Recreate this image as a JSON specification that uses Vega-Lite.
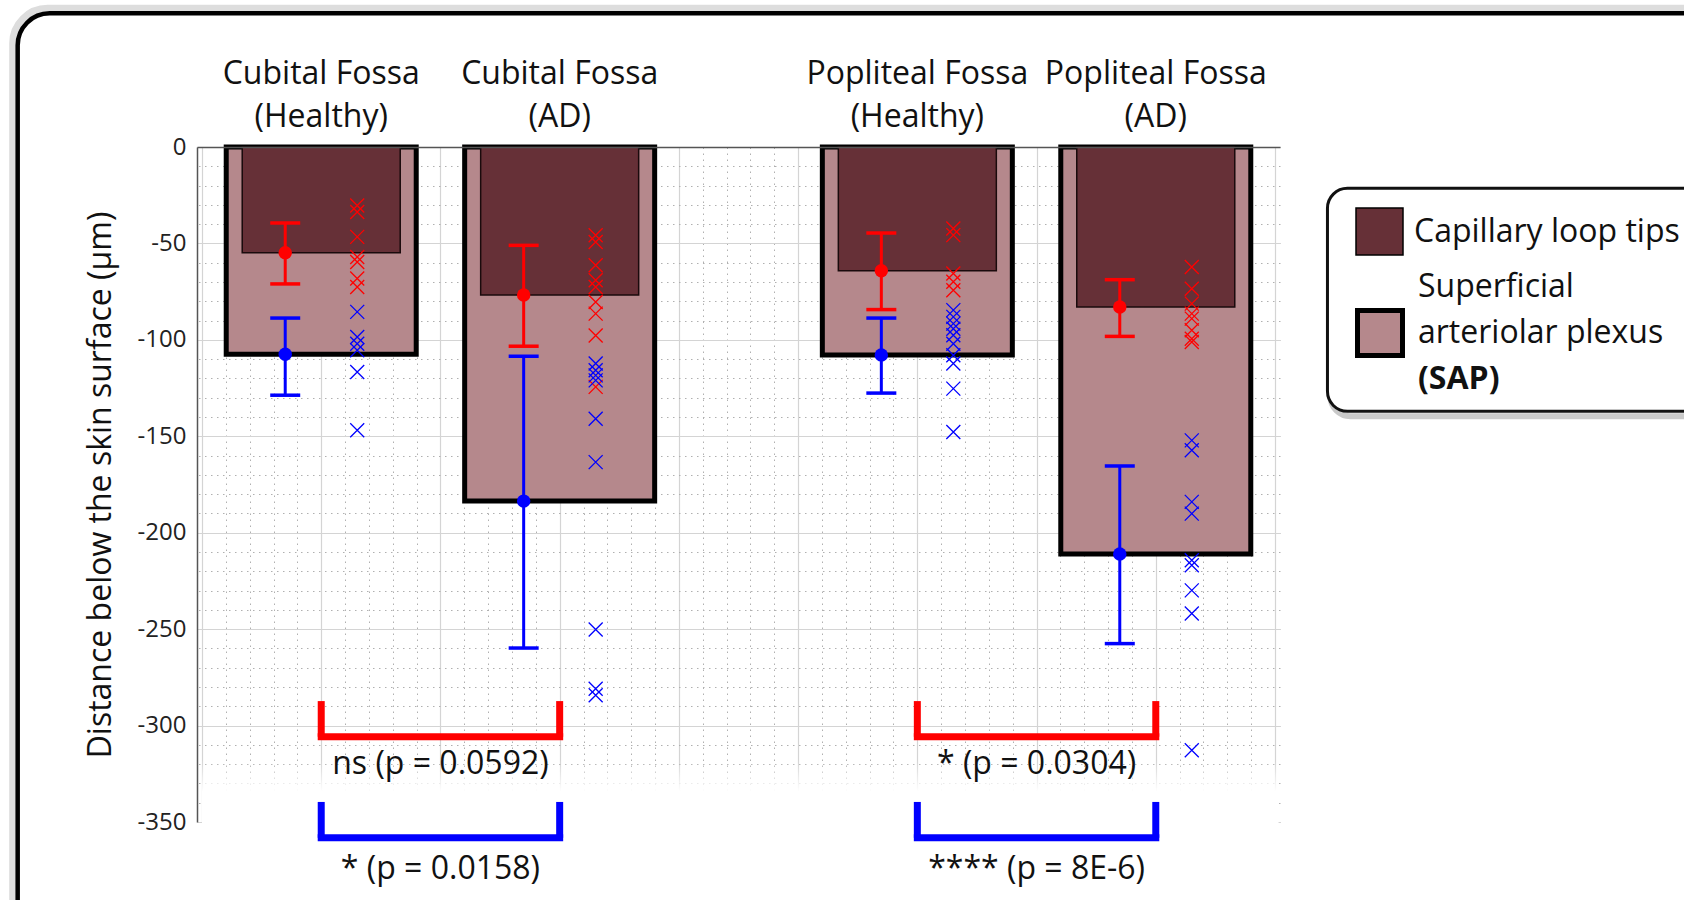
{
  "$schema": "https://vega.github.io/schema/vega-lite/v6.json",
  "width": 1083,
  "height": 675,
  "autosize": {"type": "none"},
  "padding": {"left": 197, "top": 147, "right": 404, "bottom": 78},
  "background": "#ffffff",
  "config": {"font": "Open Sans", "view": {"stroke": null}},
  "datasets": {
    "stats": [
      {"group": "Cubital Fossa (Healthy)", "pos": 1, "layer": "Capillary loop tips", "mean": -54.8, "lo": -71.0, "hi": -39.4},
      {"group": "Cubital Fossa (Healthy)", "pos": 1, "layer": "Superficial arteriolar plexus (SAP)", "mean": -107.5, "lo": -128.7, "hi": -88.7},
      {"group": "Cubital Fossa (AD)", "pos": 3, "layer": "Capillary loop tips", "mean": -76.7, "lo": -103.3, "hi": -51.0},
      {"group": "Cubital Fossa (AD)", "pos": 3, "layer": "Superficial arteriolar plexus (SAP)", "mean": -183.6, "lo": -259.8, "hi": -108.5},
      {"group": "Popliteal Fossa (Healthy)", "pos": 6, "layer": "Capillary loop tips", "mean": -64.2, "lo": -84.3, "hi": -44.6},
      {"group": "Popliteal Fossa (Healthy)", "pos": 6, "layer": "Superficial arteriolar plexus (SAP)", "mean": -107.8, "lo": -127.6, "hi": -88.7},
      {"group": "Popliteal Fossa (AD)", "pos": 8, "layer": "Capillary loop tips", "mean": -83.0, "lo": -98.2, "hi": -68.8},
      {"group": "Popliteal Fossa (AD)", "pos": 8, "layer": "Superficial arteriolar plexus (SAP)", "mean": -211.0, "lo": -257.5, "hi": -165.4}
    ],
    "points": [
      {"pos": 1, "layer": "Capillary loop tips", "depth": -30.3},
      {"pos": 1, "layer": "Capillary loop tips", "depth": -33.7},
      {"pos": 1, "layer": "Capillary loop tips", "depth": -46.6},
      {"pos": 1, "layer": "Capillary loop tips", "depth": -57.0},
      {"pos": 1, "layer": "Capillary loop tips", "depth": -59.6},
      {"pos": 1, "layer": "Capillary loop tips", "depth": -68.2},
      {"pos": 1, "layer": "Capillary loop tips", "depth": -72.6},
      {"pos": 1, "layer": "Superficial arteriolar plexus (SAP)", "depth": -85.5},
      {"pos": 1, "layer": "Superficial arteriolar plexus (SAP)", "depth": -98.5},
      {"pos": 1, "layer": "Superficial arteriolar plexus (SAP)", "depth": -102.0},
      {"pos": 1, "layer": "Superficial arteriolar plexus (SAP)", "depth": -105.4},
      {"pos": 1, "layer": "Superficial arteriolar plexus (SAP)", "depth": -116.7},
      {"pos": 1, "layer": "Superficial arteriolar plexus (SAP)", "depth": -146.9},
      {"pos": 3, "layer": "Capillary loop tips", "depth": -45.8},
      {"pos": 3, "layer": "Capillary loop tips", "depth": -49.3},
      {"pos": 3, "layer": "Capillary loop tips", "depth": -61.3},
      {"pos": 3, "layer": "Capillary loop tips", "depth": -69.1},
      {"pos": 3, "layer": "Capillary loop tips", "depth": -72.6},
      {"pos": 3, "layer": "Capillary loop tips", "depth": -80.4},
      {"pos": 3, "layer": "Capillary loop tips", "depth": -86.4},
      {"pos": 3, "layer": "Capillary loop tips", "depth": -97.7},
      {"pos": 3, "layer": "Capillary loop tips", "depth": -124.4},
      {"pos": 3, "layer": "Superficial arteriolar plexus (SAP)", "depth": -112.3},
      {"pos": 3, "layer": "Superficial arteriolar plexus (SAP)", "depth": -115.8},
      {"pos": 3, "layer": "Superficial arteriolar plexus (SAP)", "depth": -118.4},
      {"pos": 3, "layer": "Superficial arteriolar plexus (SAP)", "depth": -121.0},
      {"pos": 3, "layer": "Superficial arteriolar plexus (SAP)", "depth": -140.9},
      {"pos": 3, "layer": "Superficial arteriolar plexus (SAP)", "depth": -163.4},
      {"pos": 3, "layer": "Superficial arteriolar plexus (SAP)", "depth": -250.2},
      {"pos": 3, "layer": "Superficial arteriolar plexus (SAP)", "depth": -280.9},
      {"pos": 3, "layer": "Superficial arteriolar plexus (SAP)", "depth": -284.3},
      {"pos": 6, "layer": "Capillary loop tips", "depth": -42.3},
      {"pos": 6, "layer": "Capillary loop tips", "depth": -45.7},
      {"pos": 6, "layer": "Capillary loop tips", "depth": -65.6},
      {"pos": 6, "layer": "Capillary loop tips", "depth": -69.9},
      {"pos": 6, "layer": "Capillary loop tips", "depth": -74.3},
      {"pos": 6, "layer": "Superficial arteriolar plexus (SAP)", "depth": -84.6},
      {"pos": 6, "layer": "Superficial arteriolar plexus (SAP)", "depth": -88.1},
      {"pos": 6, "layer": "Superficial arteriolar plexus (SAP)", "depth": -91.6},
      {"pos": 6, "layer": "Superficial arteriolar plexus (SAP)", "depth": -94.2},
      {"pos": 6, "layer": "Superficial arteriolar plexus (SAP)", "depth": -97.6},
      {"pos": 6, "layer": "Superficial arteriolar plexus (SAP)", "depth": -102.0},
      {"pos": 6, "layer": "Superficial arteriolar plexus (SAP)", "depth": -108.0},
      {"pos": 6, "layer": "Superficial arteriolar plexus (SAP)", "depth": -112.3},
      {"pos": 6, "layer": "Superficial arteriolar plexus (SAP)", "depth": -125.3},
      {"pos": 6, "layer": "Superficial arteriolar plexus (SAP)", "depth": -147.8},
      {"pos": 8, "layer": "Capillary loop tips", "depth": -62.2},
      {"pos": 8, "layer": "Capillary loop tips", "depth": -73.5},
      {"pos": 8, "layer": "Capillary loop tips", "depth": -81.2},
      {"pos": 8, "layer": "Capillary loop tips", "depth": -86.4},
      {"pos": 8, "layer": "Capillary loop tips", "depth": -89.0},
      {"pos": 8, "layer": "Capillary loop tips", "depth": -95.0},
      {"pos": 8, "layer": "Capillary loop tips", "depth": -99.4},
      {"pos": 8, "layer": "Capillary loop tips", "depth": -101.1},
      {"pos": 8, "layer": "Superficial arteriolar plexus (SAP)", "depth": -152.1},
      {"pos": 8, "layer": "Superficial arteriolar plexus (SAP)", "depth": -157.2},
      {"pos": 8, "layer": "Superficial arteriolar plexus (SAP)", "depth": -184.0},
      {"pos": 8, "layer": "Superficial arteriolar plexus (SAP)", "depth": -190.1},
      {"pos": 8, "layer": "Superficial arteriolar plexus (SAP)", "depth": -214.3},
      {"pos": 8, "layer": "Superficial arteriolar plexus (SAP)", "depth": -216.9},
      {"pos": 8, "layer": "Superficial arteriolar plexus (SAP)", "depth": -229.9},
      {"pos": 8, "layer": "Superficial arteriolar plexus (SAP)", "depth": -241.9},
      {"pos": 8, "layer": "Superficial arteriolar plexus (SAP)", "depth": -312.8}
    ],
    "groups": [
      {"pos": 1, "label": "Cubital Fossa\n(Healthy)"},
      {"pos": 3, "label": "Cubital Fossa\n(AD)"},
      {"pos": 6, "label": "Popliteal Fossa\n(Healthy)"},
      {"pos": 8, "label": "Popliteal Fossa\n(AD)"}
    ],
    "comparisons": [
      {"site": "Cubital Fossa", "layer": "Capillary loop tips", "from": 1, "to": 3, "label": "ns (p = 0.0592)"},
      {"site": "Cubital Fossa", "layer": "Superficial arteriolar plexus (SAP)", "from": 1, "to": 3, "label": "* (p = 0.0158)"},
      {"site": "Popliteal Fossa", "layer": "Capillary loop tips", "from": 6, "to": 8, "label": "* (p = 0.0304)"},
      {"site": "Popliteal Fossa", "layer": "Superficial arteriolar plexus (SAP)", "from": 6, "to": 8, "label": "**** (p = 8E-6)"}
    ]
  },
  "resolve": {"axis": {"x": "independent", "y": "independent"}},
  "layer": [
    {
      "data": {"values": [{"item": "grid fade"}]},
      "mark": {"type": "rect", "fill": {"gradient": "linear", "x1": 0, "y1": 0, "x2": 0, "y2": 1, "stops": [{"offset": 0, "color": "rgba(255,255,255,0)"}, {"offset": 0.45, "color": "#ffffff"}, {"offset": 1, "color": "#ffffff"}]}},
      "encoding": {
        "x": {"datum": 0, "type": "quantitative", "scale": {"domain": [0, 9], "nice": false}, "axis": null},
        "x2": {"datum": 9.03},
        "y": {"datum": -318, "type": "quantitative", "scale": {"domain": [-350, 0], "nice": false}, "axis": null},
        "y2": {"datum": -354}
      }
    },
    {
      "data": {"name": "stats"},
      "transform": [{"filter": "datum.layer === 'Superficial arteriolar plexus (SAP)'"}],
      "mark": {"type": "bar", "width": 190, "stroke": "#000000"},
      "encoding": {
        "x": {"field": "pos", "type": "quantitative", "axis": {"orient": "bottom", "tickCount": 45, "grid": true, "gridColor": "#b0b0b0", "gridDash": [1.5, 4.5], "gridWidth": 1, "labels": false, "ticks": false, "domain": false, "title": null}},
        "y": {"field": "mean", "type": "quantitative", "axis": {"orient": "right", "tickCount": 35, "grid": true, "gridColor": "#b0b0b0", "gridDash": [1.5, 4.5], "gridWidth": 1, "labels": false, "ticks": false, "domain": false, "title": null}},
        "y2": {"datum": 0},
        "fill": {
          "field": "layer", "type": "nominal",
          "scale": {"domain": ["Capillary loop tips", "Superficial arteriolar plexus (SAP)"], "range": ["#663037", "#b5888c"]},
          "legend": {
            "orient": "none", "legendX": 1158, "legendY": 60, "title": null, "padding": 0,
            "values": ["Capillary loop tips"],
            "symbolType": "square", "symbolSize": 2209, "symbolStrokeColor": "#000000", "symbolStrokeWidth": 1.5,
            "labelFont": "Open Sans", "labelFontSize": 32, "labelColor": "#111111", "labelLimit": 600, "labelOffset": 10
          }
        },
        "strokeWidth": {
          "field": "layer", "type": "nominal",
          "scale": {"domain": ["Superficial arteriolar plexus (SAP)", "Capillary loop tips"], "range": [5, 1.5]},
          "legend": {
            "orient": "none", "legendX": 1158, "legendY": 161, "title": null, "padding": 0,
            "values": ["Superficial arteriolar plexus (SAP)"],
            "symbolType": "square", "symbolSize": 2025, "symbolStrokeColor": "#000000", "symbolFillColor": "#b5888c",
            "labelFont": "Open Sans", "labelFontSize": 32, "labelColor": "#111111", "labelLimit": 600, "labelOffset": 13,
            "labelExpr": "'arteriolar plexus'"
          }
        },
        "opacity": {
          "field": "layer", "type": "nominal",
          "scale": {"range": [1, 1]},
          "legend": {
            "orient": "none", "legendX": 1189, "legendY": 124, "title": null, "padding": 0,
            "symbolSize": 0, "symbolStrokeWidth": 0, "symbolFillColor": "transparent", "symbolStrokeColor": "transparent",
            "labelFont": "Open Sans", "labelFontSize": 32, "labelColor": "#111111", "labelLimit": 600, "labelOffset": 0,
            "labelExpr": "'Superficial'"
          }
        }
      }
    },
    {
      "data": {"name": "stats"},
      "transform": [{"filter": "datum.layer === 'Capillary loop tips'"}],
      "mark": {"type": "bar", "width": 158, "stroke": "#1a0a0c"},
      "encoding": {
        "x": {"field": "pos", "type": "quantitative", "axis": {"orient": "bottom", "tickCount": 9, "grid": true, "gridColor": "#d4d4d4", "gridWidth": 1.2, "labels": false, "ticks": false, "domain": false, "title": null}},
        "y": {"field": "mean", "type": "quantitative", "axis": {"orient": "right", "tickCount": 7, "grid": true, "gridColor": "#d4d4d4", "gridWidth": 1.2, "labels": false, "ticks": false, "domain": false, "title": null}},
        "y2": {"datum": 0},
        "fill": {
          "field": "layer", "type": "nominal",
          "scale": {"domain": ["Capillary loop tips", "Superficial arteriolar plexus (SAP)"], "range": ["#663037", "#b5888c"]},
          "legend": {
            "orient": "none", "legendX": 1158, "legendY": 60, "title": null, "padding": 0,
            "values": ["Capillary loop tips"],
            "symbolType": "square", "symbolSize": 2209, "symbolStrokeColor": "#000000", "symbolStrokeWidth": 1.5,
            "labelFont": "Open Sans", "labelFontSize": 32, "labelColor": "#111111", "labelLimit": 600, "labelOffset": 10
          }
        },
        "strokeWidth": {
          "field": "layer", "type": "nominal",
          "scale": {"domain": ["Superficial arteriolar plexus (SAP)", "Capillary loop tips"], "range": [5, 1.5]},
          "legend": {
            "orient": "none", "legendX": 1158, "legendY": 161, "title": null, "padding": 0,
            "values": ["Superficial arteriolar plexus (SAP)"],
            "symbolType": "square", "symbolSize": 2025, "symbolStrokeColor": "#000000", "symbolFillColor": "#b5888c",
            "labelFont": "Open Sans", "labelFontSize": 32, "labelColor": "#111111", "labelLimit": 600, "labelOffset": 13,
            "labelExpr": "'arteriolar plexus'"
          }
        },
        "strokeDash": {
          "field": "layer", "type": "nominal",
          "scale": {"range": [[1, 0]]},
          "legend": {
            "orient": "none", "legendX": 1189, "legendY": 216, "title": null, "padding": 0,
            "symbolSize": 0, "symbolStrokeWidth": 0, "symbolFillColor": "transparent", "symbolStrokeColor": "transparent",
            "labelFont": "Open Sans", "labelFontSize": 32, "labelFontWeight": "bold", "labelColor": "#111111", "labelLimit": 600, "labelOffset": 0,
            "labelExpr": "'(SAP)'"
          }
        }
      }
    },
    {
      "data": {"name": "points"},
      "mark": {"type": "point", "shape": "M-1,-1L1,1M-1,1L1,-1", "filled": false, "size": 196, "strokeWidth": 1.3, "opacity": 1, "xOffset": 36},
      "encoding": {
        "x": {"field": "pos", "type": "quantitative", "axis": {"orient": "top", "grid": false, "labels": false, "ticks": false, "domain": true, "domainColor": "#555555", "domainWidth": 1.5, "title": null, "zindex": 1}},
        "y": {"field": "depth", "type": "quantitative", "axis": {"orient": "left", "tickCount": 7, "grid": false, "ticks": false, "domain": true, "domainColor": "#555555", "domainWidth": 1.5, "labelFont": "Open Sans", "labelFontSize": 24, "labelColor": "#222222", "labelPadding": 11, "labelExpr": "toString(datum.value)", "title": "Distance below the skin surface (μm)", "titleFont": "Open Sans", "titleFontSize": 32, "titleFontWeight": "normal", "titleColor": "#111111", "titlePadding": 20, "zindex": 1}},
        "color": {"field": "layer", "type": "nominal", "scale": {"range": ["#ff0000", "#0000ff"]}, "legend": null}
      }
    },
    {
      "data": {"name": "stats"},
      "mark": {"type": "rule", "strokeWidth": 3, "xOffset": -36},
      "encoding": {
        "x": {"field": "pos", "type": "quantitative", "axis": null},
        "y": {"field": "lo", "type": "quantitative", "axis": null},
        "y2": {"field": "hi"},
        "color": {"field": "layer", "type": "nominal", "scale": {"range": ["#ff0000", "#0000ff"]}, "legend": null}
      }
    },
    {
      "data": {"name": "stats"},
      "mark": {"type": "point", "shape": "M-1,0L1,0", "filled": false, "size": 900, "strokeWidth": 3.5, "opacity": 1, "xOffset": -36},
      "encoding": {
        "x": {"field": "pos", "type": "quantitative", "axis": null},
        "y": {"field": "lo", "type": "quantitative", "axis": null},
        "color": {"field": "layer", "type": "nominal", "scale": {"range": ["#ff0000", "#0000ff"]}, "legend": null}
      }
    },
    {
      "data": {"name": "stats"},
      "mark": {"type": "point", "shape": "M-1,0L1,0", "filled": false, "size": 900, "strokeWidth": 3.5, "opacity": 1, "xOffset": -36},
      "encoding": {
        "x": {"field": "pos", "type": "quantitative", "axis": null},
        "y": {"field": "hi", "type": "quantitative", "axis": null},
        "color": {"field": "layer", "type": "nominal", "scale": {"range": ["#ff0000", "#0000ff"]}, "legend": null}
      }
    },
    {
      "data": {"name": "stats"},
      "mark": {"type": "point", "shape": "circle", "filled": true, "size": 180, "opacity": 1, "xOffset": -36},
      "encoding": {
        "x": {"field": "pos", "type": "quantitative", "axis": null},
        "y": {"field": "mean", "type": "quantitative", "axis": null},
        "color": {"field": "layer", "type": "nominal", "scale": {"range": ["#ff0000", "#0000ff"]}, "legend": null}
      }
    },
    {
      "data": {"name": "comparisons"},
      "transform": [{"filter": "datum.layer === 'Capillary loop tips'"}, {"fold": ["from", "to"], "as": ["end", "xpos"]}],
      "mark": {"type": "rule", "strokeWidth": 7},
      "encoding": {
        "x": {"field": "xpos", "type": "quantitative", "axis": null},
        "y": {"datum": -287.3, "type": "quantitative", "axis": null},
        "y2": {"datum": -305.8},
        "color": {"field": "layer", "type": "nominal", "scale": {"range": ["#ff0000", "#0000ff"]}, "legend": null}
      }
    },
    {
      "data": {"name": "comparisons"},
      "transform": [{"filter": "datum.layer === 'Superficial arteriolar plexus (SAP)'"}, {"fold": ["from", "to"], "as": ["end", "xpos"]}],
      "mark": {"type": "rule", "strokeWidth": 7},
      "encoding": {
        "x": {"field": "xpos", "type": "quantitative", "axis": null},
        "y": {"datum": -339.6, "type": "quantitative", "axis": null},
        "y2": {"datum": -358.2},
        "color": {"field": "layer", "type": "nominal", "scale": {"range": ["#ff0000", "#0000ff"]}, "legend": null}
      }
    },
    {
      "data": {"name": "comparisons"},
      "transform": [{"filter": "datum.layer === 'Capillary loop tips'"}],
      "mark": {"type": "rule", "strokeWidth": 7, "strokeCap": "square"},
      "encoding": {
        "x": {"field": "from", "type": "quantitative", "axis": null},
        "x2": {"field": "to"},
        "y": {"datum": -305.8, "type": "quantitative", "axis": null},
        "color": {"field": "layer", "type": "nominal", "scale": {"range": ["#ff0000", "#0000ff"]}, "legend": null}
      }
    },
    {
      "data": {"name": "comparisons"},
      "transform": [{"filter": "datum.layer === 'Superficial arteriolar plexus (SAP)'"}],
      "mark": {"type": "rule", "strokeWidth": 7, "strokeCap": "square"},
      "encoding": {
        "x": {"field": "from", "type": "quantitative", "axis": null},
        "x2": {"field": "to"},
        "y": {"datum": -358.2, "type": "quantitative", "axis": null},
        "color": {"field": "layer", "type": "nominal", "scale": {"range": ["#ff0000", "#0000ff"]}, "legend": null}
      }
    },
    {
      "data": {"name": "comparisons"},
      "transform": [{"filter": "datum.layer === 'Capillary loop tips'"}, {"fold": ["from", "to"], "as": ["end", "xpos"]}],
      "mark": {"type": "text", "font": "Open Sans", "fontSize": 32, "color": "#111111", "baseline": "middle", "align": "center"},
      "encoding": {
        "x": {"field": "xpos", "aggregate": "mean", "type": "quantitative", "axis": null},
        "y": {"datum": -319.9, "type": "quantitative", "axis": null},
        "text": {"field": "label"}
      }
    },
    {
      "data": {"name": "comparisons"},
      "transform": [{"filter": "datum.layer === 'Superficial arteriolar plexus (SAP)'"}, {"fold": ["from", "to"], "as": ["end", "xpos"]}],
      "mark": {"type": "text", "font": "Open Sans", "fontSize": 32, "color": "#111111", "baseline": "middle", "align": "center"},
      "encoding": {
        "x": {"field": "xpos", "aggregate": "mean", "type": "quantitative", "axis": null},
        "y": {"datum": -374.5, "type": "quantitative", "axis": null},
        "text": {"field": "label"}
      }
    },
    {
      "data": {"name": "groups"},
      "mark": {"type": "text", "font": "Open Sans", "fontSize": 32, "color": "#111111", "baseline": "bottom", "align": "center", "lineBreak": "\n", "lineHeight": 43.4, "dy": -56.4},
      "encoding": {
        "x": {"field": "pos", "type": "quantitative", "axis": null},
        "y": {"datum": 0, "type": "quantitative", "axis": null},
        "text": {"field": "label"}
      }
    },
    {
      "data": {"values": [{"item": "legend box shadow"}]},
      "mark": {"type": "rect", "fillOpacity": 0, "stroke": "#888888", "strokeWidth": 6, "strokeOpacity": 0.45, "cornerRadius": 20, "xOffset": 3, "x2Offset": 3, "yOffset": 5, "y2Offset": 5},
      "encoding": {
        "x": {"datum": 9.44, "type": "quantitative", "axis": null},
        "x2": {"datum": 13},
        "y": {"datum": -21.4, "type": "quantitative", "axis": null},
        "y2": {"datum": -137.05}
      }
    },
    {
      "data": {"values": [{"item": "legend box"}]},
      "mark": {"type": "rect", "fill": "#ffffff", "stroke": "#111111", "strokeWidth": 3, "cornerRadius": 20},
      "encoding": {
        "x": {"datum": 9.44, "type": "quantitative", "axis": null},
        "x2": {"datum": 13},
        "y": {"datum": -21.4, "type": "quantitative", "axis": null},
        "y2": {"datum": -137.05}
      }
    },
    {
      "data": {"values": [{"item": "panel frame shadow"}]},
      "mark": {"type": "rect", "fillOpacity": 0, "stroke": "#dddddd", "strokeWidth": 9, "cornerRadius": 34, "xOffset": -4, "x2Offset": -4, "yOffset": -4, "y2Offset": -4},
      "encoding": {
        "x": {"datum": -1.546, "type": "quantitative", "axis": null},
        "x2": {"datum": 13},
        "y": {"datum": 69.3, "type": "quantitative", "axis": null},
        "y2": {"datum": -420}
      }
    },
    {
      "data": {"values": [{"item": "panel frame"}]},
      "mark": {"type": "rect", "fillOpacity": 0, "stroke": "#000000", "strokeWidth": 4.5, "cornerRadius": 32},
      "encoding": {
        "x": {"datum": -1.546, "type": "quantitative", "axis": null},
        "x2": {"datum": 13},
        "y": {"datum": 69.3, "type": "quantitative", "axis": null},
        "y2": {"datum": -420}
      }
    }
  ]
}
